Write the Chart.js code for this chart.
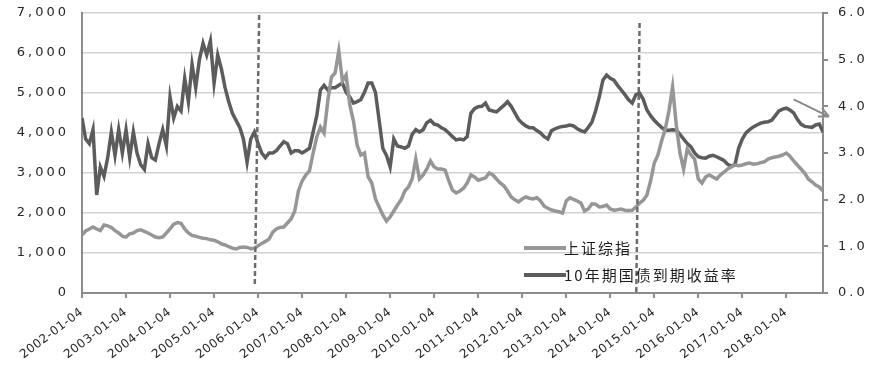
<!DOCTYPE html>
<html>
<head>
<meta charset="utf-8">
<script src="https://cdn.jsdelivr.net/npm/chart.js@4.4.0/dist/chart.umd.min.js"></script>
<style>
  html, body { margin: 0; padding: 0; background: #fff; }
  #wrap { position: relative; width: 878px; height: 368px; }
  #legend {
    position: absolute; left: 524px; top: 234px;
    font-family: "Noto Sans CJK SC", sans-serif; font-size: 15px;
    letter-spacing: 2px; color: #1e1e1e;
  }
  .row { display: flex; align-items: center; height: 27px; white-space: nowrap; }
  .swatch { width: 42px; height: 4px; margin-right: -2px; }
</style>
</head>
<body>
<div id="wrap">
  <canvas id="chart" width="878" height="368"></canvas>
  <div id="legend"></div>
</div>
<script>
// --- data: monthly readings, 2002-01 .. 2018-11 ---
const months = [];
for (let y = 2002; y <= 2018; y++) {
    for (let m = 1; m <= 12; m++) {
        if (y === 2018 && m > 11) break;
        months.push(`${y}-${String(m).padStart(2, '0')}`);
    }
}

// 上证综指 (left axis)
const shIndex = [
    1450, 1550, 1600, 1650, 1600, 1560, 1700, 1680, 1640, 1560, 1500, 1420, // 2002
    1400, 1480, 1500, 1560, 1580, 1540, 1500, 1450, 1400, 1380, 1400, 1500, // 2003
    1600, 1720, 1760, 1740, 1600, 1500, 1440, 1420, 1390, 1370, 1360, 1330, // 2004
    1320, 1280, 1230, 1200, 1160, 1120, 1100, 1140, 1150, 1140, 1110, 1120, // 2005
    1180, 1240, 1290, 1350, 1520, 1600, 1640, 1650, 1750, 1850, 2050, 2550, // 2006
    2800, 2950, 3050, 3500, 3900, 4150, 4000, 4800, 5400, 5500, 6050, 5300, // 2007
    5450, 4700, 4300, 3700, 3450, 3500, 2900, 2750, 2350, 2150, 1950, 1800, // 2008
    1900, 2050, 2200, 2330, 2550, 2650, 2850, 3350, 2850, 2950, 3100, 3300, // 2009
    3150, 3100, 3100, 3070, 2800, 2570, 2500, 2550, 2620, 2750, 2950, 2900, // 2010
    2820, 2850, 2880, 3000, 2950, 2850, 2750, 2680, 2550, 2400, 2330, 2280, // 2011
    2350, 2400, 2370, 2350, 2380, 2300, 2170, 2120, 2075, 2050, 2030, 2000, // 2012
    2300, 2380, 2340, 2300, 2250, 2050, 2100, 2230, 2220, 2150, 2160, 2200, // 2013
    2100, 2070, 2080, 2100, 2070, 2060, 2070, 2150, 2250, 2320, 2450, 2800, // 2014
    3250, 3450, 3800, 4100, 4550, 5150, 4200, 3500, 3100, 3600, 3450, 3350, // 2015
    2850, 2750, 2900, 2950, 2900, 2850, 2950, 3020, 3100, 3150, 3200, 3180, // 2016
    3200, 3230, 3250, 3220, 3230, 3260, 3280, 3350, 3380, 3400, 3420, 3450, // 2017
    3500, 3420, 3300, 3200, 3100, 3000, 2850, 2780, 2700, 2650, 2550        // 2018
];

// 10年期国债到期收益率 (right axis, %)
const bondYield = [
    3.75, 3.3, 3.2, 3.5, 2.1, 2.7, 2.5, 2.9, 3.45, 2.95, 3.5, 3.0,
    3.5, 2.9, 3.45, 3.0, 2.75, 2.65, 3.2, 2.9, 2.85, 3.2, 3.5, 3.15,
    4.2, 3.75, 4.0, 3.9, 4.6, 4.1, 4.9, 4.4, 5.0, 5.35, 5.1, 5.4,
    4.5, 5.1, 4.8, 4.4, 4.1, 3.85, 3.7, 3.55, 3.3, 2.8, 3.3, 3.45,
    3.2, 3.0, 2.9, 3.0, 3.0, 3.05, 3.15, 3.24, 3.2, 3.0, 3.05, 3.05,
    3.0, 3.05, 3.1, 3.45, 3.8, 4.35, 4.45, 4.35, 4.4, 4.4, 4.45, 4.5,
    4.3, 4.2, 4.07, 4.1, 4.14, 4.3, 4.5, 4.5, 4.3, 3.7, 3.1, 2.95,
    2.7, 3.3, 3.15, 3.13, 3.1, 3.15, 3.4, 3.5, 3.45, 3.5, 3.65, 3.7,
    3.62, 3.6, 3.54, 3.5, 3.43, 3.35, 3.28, 3.3, 3.28, 3.35, 3.85, 3.95,
    3.99, 4.0, 4.07, 3.92, 3.9, 3.88, 3.95, 4.02, 4.1, 4.0, 3.86, 3.72,
    3.64, 3.58, 3.54, 3.54, 3.48, 3.43, 3.35, 3.3, 3.48, 3.52, 3.55, 3.57,
    3.58, 3.6, 3.58, 3.52, 3.48, 3.45, 3.55, 3.66, 3.9, 4.2, 4.56, 4.67,
    4.6, 4.56, 4.45, 4.35, 4.25, 4.14, 4.07, 4.25, 4.28, 4.15, 3.92, 3.8,
    3.7, 3.62, 3.55, 3.49, 3.49, 3.5, 3.49, 3.4, 3.3, 3.2, 3.13, 3.0,
    2.92, 2.9, 2.89, 2.93, 2.95, 2.92, 2.88, 2.84, 2.76, 2.72, 2.75, 3.1,
    3.3, 3.43, 3.5, 3.56, 3.6, 3.64, 3.66, 3.67, 3.7, 3.8, 3.9, 3.94,
    3.96, 3.92, 3.86, 3.72, 3.62, 3.57, 3.56, 3.55, 3.6, 3.62, 3.45
];

const seriesNames = ['上证综指', '10年期国债到期收益率'];
const seriesColors = ['#969696', '#5c5c5c'];

// annotations in data units: [month index, left-axis value]
const guideLines = [
    { from: [48.3, 6950], to: [47.1, 200] },
    { from: [152.0, 6750], to: [151.1, 0] }
];
const trendArrow = { from: [194.0, 4840], to: [203.6, 4410] };

// --- plugins ---
// tick labels in the source look stretched, so widen them per axis
const tickSpacing = { x: '0.6px', y: '3px', y1: '3px' };
const letterSpacing = {
    id: 'letterSpacing',
    afterLayout(chart) {
        Object.entries(tickSpacing).forEach(([id, ls]) => {
            const s = chart.scales[id];
            if (!s || s._spaced) return;
            const drawLabels = s.drawLabels;
            s.drawLabels = function (area) {
                this.ctx.letterSpacing = ls;
                drawLabels.call(this, area);
                this.ctx.letterSpacing = '0px';
            };
            s._spaced = true;
        });
    }
};

const annotate = {
    id: 'annotate',
    afterDatasetsDraw(chart) {
        const { ctx, scales: { x, y } } = chart;
        const pt = ([i, v]) => [x.getPixelForValue(i), y.getPixelForValue(v)];
        ctx.save();
        ctx.strokeStyle = '#6c6c6c';
        ctx.lineWidth = 2.5;
        ctx.setLineDash([5, 3]);
        guideLines.forEach(g => {
            const a = pt(g.from), b = pt(g.to);
            ctx.beginPath();
            ctx.moveTo(a[0], a[1]);
            ctx.lineTo(b[0], b[1]);
            ctx.stroke();
        });

        // arrow pointing down-right
        ctx.setLineDash([]);
        ctx.strokeStyle = '#8a8a8a';
        ctx.lineWidth = 2;
        const a = pt(trendArrow.from), b = pt(trendArrow.to);
        const ang = Math.atan2(b[1] - a[1], b[0] - a[0]);
        ctx.beginPath();
        ctx.moveTo(a[0], a[1]);
        ctx.lineTo(b[0], b[1]);
        [-0.45, 0.45].forEach(d => {
            ctx.moveTo(b[0], b[1]);
            ctx.lineTo(b[0] - 11 * Math.cos(ang + d), b[1] - 11 * Math.sin(ang + d));
        });
        ctx.stroke();
        ctx.restore();
    }
};

const tickFont = { family: 'DejaVu Sans', size: 13 };

// keep the plot area fixed: no extra room for half-height tick labels
const noEdgePadding = s => { s.paddingTop = 0; s.paddingBottom = 0; };

new Chart(document.getElementById('chart'), {
    type: 'line',
    data: {
        datasets: [
            {
                label: seriesNames[0],
                data: shIndex.map((v, i) => ({ x: i, y: v })),
                yAxisID: 'y',
                borderColor: seriesColors[0],
                borderWidth: 3.5,
                pointRadius: 0,
                tension: 0
            },
            {
                label: seriesNames[1],
                data: bondYield.map((v, i) => ({ x: i, y: v })),
                yAxisID: 'y1',
                borderColor: seriesColors[1],
                borderWidth: 3.5,
                pointRadius: 0,
                tension: 0
            }
        ]
    },
    options: {
        responsive: false,
        animation: false,
        devicePixelRatio: 1,
        layout: { padding: { top: 13, left: 0, right: 0, bottom: 0 } },
        plugins: { legend: { display: false }, tooltip: { enabled: false } },
        scales: {
            x: {
                type: 'linear',
                min: 0,
                max: months.length - 1,
                border: { color: '#8c8c8c', width: 2 },
                grid: { drawOnChartArea: false, color: '#8c8c8c', lineWidth: 2, tickLength: 5 },
                ticks: {
                    stepSize: 12,
                    includeBounds: false,
                    autoSkip: false,
                    minRotation: 37,
                    maxRotation: 37,
                    padding: 7,
                    color: '#262626',
                    font: { family: 'DejaVu Sans', size: 12 },
                    callback: v => months[v] ? months[v] + '-04' : ''
                },
                afterFit: s => { s.height = 75; }
            },
            y: {
                position: 'left',
                min: 0,
                max: 7000,
                border: { color: '#8c8c8c', width: 2 },
                grid: { color: '#d2d2d2', lineWidth: 1.5, drawTicks: false },
                ticks: {
                    stepSize: 1000,
                    padding: 13,
                    color: '#262626',
                    font: tickFont,
                    callback: v => v.toLocaleString('en-US')
                },
                afterFit: s => { s.width = 82; noEdgePadding(s); }
            },
            y1: {
                position: 'right',
                min: 0,
                max: 6,
                border: { color: '#8c8c8c', width: 2 },
                grid: { drawOnChartArea: false, color: '#8c8c8c', lineWidth: 2, tickLength: 5 },
                ticks: {
                    stepSize: 1,
                    padding: 10,
                    color: '#262626',
                    font: tickFont,
                    callback: v => v.toFixed(1)
                },
                afterFit: s => { s.width = 55; noEdgePadding(s); }
            }
        }
    },
    plugins: [letterSpacing, annotate]
});

// legend inside the plot, bottom right
const legendEl = document.getElementById('legend');
seriesNames.forEach((name, i) => {
    const row = document.createElement('div');
    row.className = 'row';
    row.innerHTML = `<span class="swatch" style="background:${seriesColors[i]}"></span><span>${name}</span>`;
    legendEl.appendChild(row);
});
</script>
</body>
</html>
